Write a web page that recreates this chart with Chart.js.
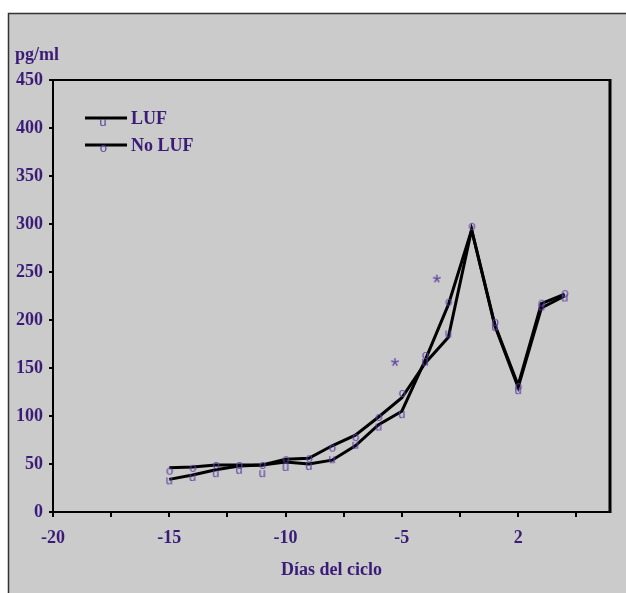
<!DOCTYPE html>
<html>
<head>
<meta charset="utf-8">
<script src="https://cdn.jsdelivr.net/npm/chart.js@4.4.1/dist/chart.umd.min.js"></script>
<style>
  html, body { margin: 0; padding: 0; background: #ffffff; }
  #wrap { position: absolute; left: 0; top: 0; width: 626px; height: 593px; }
</style>
</head>
<body>
<div id="wrap"><canvas id="graf" width="626" height="593"></canvas></div>
<script>
// jours du cycle (axe x)
const days = [-15, -14, -13, -12, -11, -10, -9, -8, -7, -6, -5, -4, -3, -2, -1, 0, 1, 2];

// tracés (lignes noires)
const noLufLine = [46, 47, 49, 49, 49, 55, 56, 69, 80, 99, 119, 155, 182, 294, 195, 132, 217, 227];
const lufLine   = [34, 38.5, 44, 48, 49, 52, 50, 54, 69, 91, 105, 158, 216, 294, 194, 130, 212.5, 225];

// symboles (o = No LUF, u = LUF)
const noLufMarks = [43, 46, 49, 49, 49, 55, 56, 67, 78, 99, 124, 163.5, 219, 298, 198, 131, 218, 228];
const lufMarks   = [33, 36.5, 40.5, 44, 40.5, 47, 48, 55, 70, 89, 102, 156.5, 186, null, 193, 127, 214, 223.5];

// astérisques (différence significative)
const starDays   = [-5.3, -3.5];
const starValues = [156, 243];

// étiquettes
const xTickValues = [-20, -15, -10, -5, 0];
const xTickLabels = ['-20', '-15', '-10', '-5', '2'];
const yTickValues = [0, 50, 100, 150, 200, 250, 300, 350, 400, 450];
const seriesNames = ['LUF', 'No LUF'];

const TEXTE = '#3a1c78';
const SYMB = '#5b3fa0';
const SERIF = '"Liberation Serif", "Times New Roman", serif';
const MONO = '"Liberation Mono", "Courier New", monospace';

function glyphe(ch, taille) {
  const c = document.createElement('canvas');
  c.width = 20; c.height = 20;
  const g = c.getContext('2d');
  g.font = taille + 'px ' + MONO;
  g.fillStyle = SYMB;
  g.textBaseline = 'alphabetic';
  g.textAlign = 'left';
  const m = g.measureText(ch);
  const w = m.actualBoundingBoxLeft + m.actualBoundingBoxRight;
  const h = m.actualBoundingBoxAscent + m.actualBoundingBoxDescent;
  g.fillText(ch, 10 - w / 2 + m.actualBoundingBoxLeft, 10 - h / 2 + m.actualBoundingBoxAscent);
  return c;
}

const symO = glyphe('o', 13);
const symU = glyphe('u', 13);
const symStar = glyphe('*', 22);

function points(vals) {
  return days.map((d, i) => ({ x: d, y: vals[i] }));
}

const fondPlugin = {
  id: 'fond',
  beforeDraw(chart) {
    const ctx = chart.ctx;
    ctx.save();
    ctx.fillStyle = '#ffffff';
    ctx.fillRect(0, 0, chart.width, chart.height);
    ctx.fillStyle = '#cbcbcb';
    ctx.fillRect(8, 13, chart.width - 8, chart.height - 13);
    ctx.strokeStyle = '#333333';
    ctx.lineWidth = 1.5;
    ctx.beginPath();
    ctx.moveTo(8.5, chart.height);
    ctx.lineTo(8.5, 13.5);
    ctx.lineTo(chart.width, 13.5);
    ctx.stroke();
    ctx.restore();
  },
  afterDraw(chart) {
    const ctx = chart.ctx;
    const a = chart.chartArea;
    ctx.save();
    // cadre haut et droit
    ctx.strokeStyle = '#000';
    ctx.lineWidth = 2;
    ctx.beginPath();
    ctx.moveTo(a.left, a.top);
    ctx.lineTo(a.right, a.top);
    ctx.stroke();
    ctx.lineWidth = 3;
    ctx.beginPath();
    ctx.moveTo(a.right, a.top - 1);
    ctx.lineTo(a.right, a.bottom + 1);
    ctx.stroke();

    // unité
    ctx.fillStyle = TEXTE;
    ctx.font = 'bold 18px ' + SERIF;
    ctx.textBaseline = 'alphabetic';
    ctx.fillText('pg/ml', 15, 60);

    // légende
    const lignes = [{ y: 118, sym: symU, dy: 4 }, { y: 145, sym: symO, dy: 3 }];
    lignes.forEach((l, i) => {
      ctx.strokeStyle = '#000';
      ctx.lineWidth = 3;
      ctx.beginPath();
      ctx.moveTo(85, l.y);
      ctx.lineTo(127, l.y);
      ctx.stroke();
      ctx.drawImage(l.sym, 103 - 10, l.y + l.dy - 10);
      ctx.fillStyle = TEXTE;
      ctx.font = 'bold 18px ' + SERIF;
      ctx.textBaseline = 'middle';
      ctx.fillText(seriesNames[i], 131, l.y + 1);
    });
    ctx.restore();
  }
};

new Chart(document.getElementById('graf'), {
  type: 'scatter',
  data: {
    datasets: [
      {
        label: 'No LUF (trazo)',
        data: points(noLufLine),
        showLine: true,
        borderColor: '#000',
        borderWidth: 3,
        pointRadius: 0,
        tension: 0,
        order: 2
      },
      {
        label: 'LUF (trazo)',
        data: points(lufLine),
        showLine: true,
        borderColor: '#000',
        borderWidth: 3,
        pointRadius: 0,
        tension: 0,
        order: 2
      },
      {
        label: 'No LUF',
        data: points(noLufMarks),
        showLine: false,
        pointStyle: symO,
        pointRadius: 4,
        order: 1
      },
      {
        label: 'LUF',
        data: points(lufMarks),
        showLine: false,
        pointStyle: symU,
        pointRadius: 4,
        order: 1
      },
      {
        label: '*',
        data: starDays.map((d, i) => ({ x: d, y: starValues[i] })),
        showLine: false,
        pointStyle: symStar,
        pointRadius: 4,
        order: 1
      }
    ]
  },
  options: {
    responsive: false,
    animation: false,
    events: [],
    layout: { padding: { left: 0, top: 80, right: 16, bottom: 0 } },
    plugins: {
      legend: { display: false },
      tooltip: { enabled: false }
    },
    scales: {
      x: {
        type: 'linear',
        min: -20,
        max: 3.95,
        afterFit(scale) { scale.height = 81; },
        grid: { drawOnChartArea: false, drawTicks: true, tickLength: 5, color: '#000', lineWidth: 2 },
        border: { color: '#000', width: 2 },
        ticks: {
          stepSize: 2.5,
          includeBounds: false,
          autoSkip: false,
          maxRotation: 0,
          padding: 11,
          color: TEXTE,
          font: { family: SERIF, size: 18, weight: 'bold' },
          callback(v) {
            const i = xTickValues.indexOf(v);
            return i >= 0 ? xTickLabels[i] : '';
          }
        },
        title: {
          display: true,
          text: 'Días del ciclo',
          color: TEXTE,
          font: { family: SERIF, size: 18, weight: 'bold' },
          padding: { top: 0, bottom: 12 }
        }
      },
      y: {
        min: 0,
        max: 450,
        afterFit(scale) { scale.width = 53; },
        grid: { drawOnChartArea: false, drawTicks: true, tickLength: 4, color: '#000', lineWidth: 2 },
        border: { color: '#000', width: 2 },
        ticks: {
          stepSize: 25,
          padding: 6,
          color: TEXTE,
          font: { family: SERIF, size: 18, weight: 'bold' },
          callback(v) {
            return yTickValues.includes(v) ? v : '';
          }
        }
      }
    }
  },
  plugins: [fondPlugin]
});
</script>
</body>
</html>
